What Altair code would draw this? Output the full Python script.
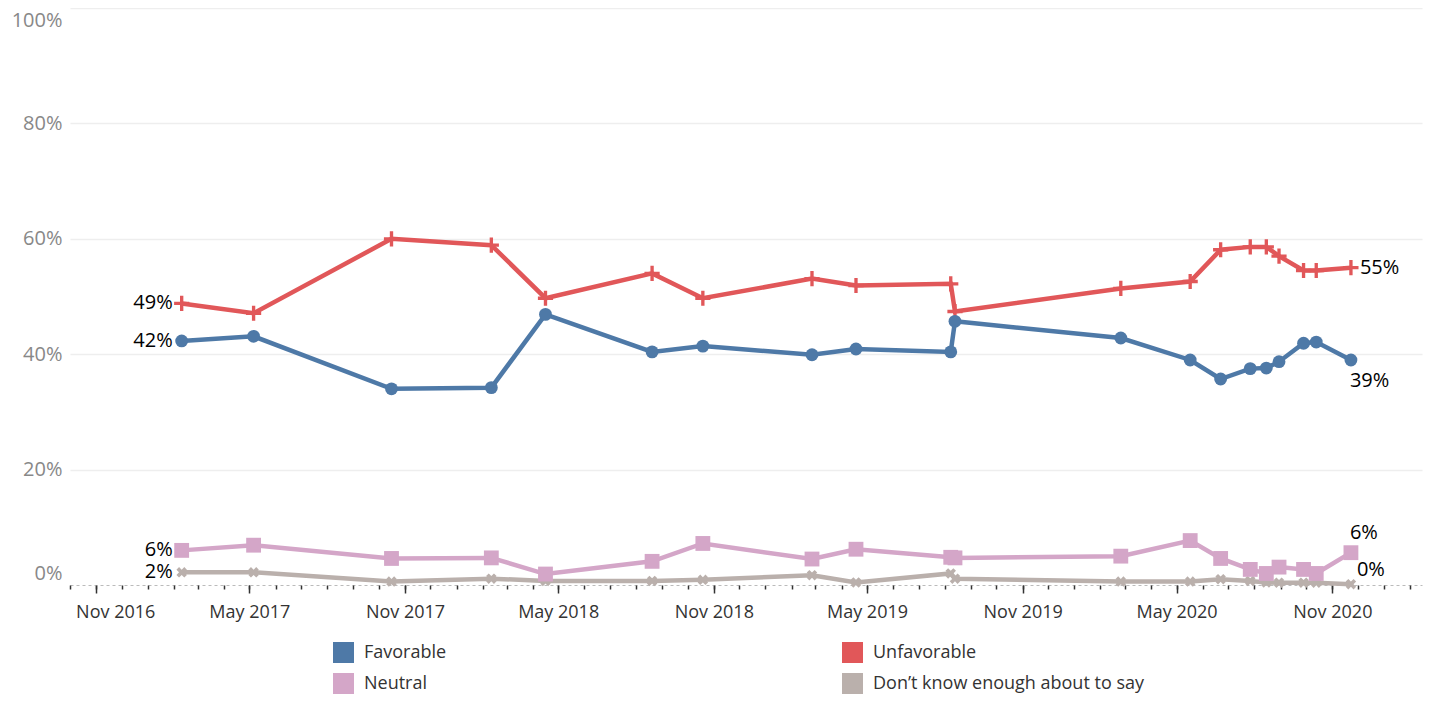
import altair as alt
import pandas as pd

# ---------------- data ----------------
dates = [
    "2017-02-10", "2017-05-06", "2017-10-16", "2018-02-11", "2018-04-16",
    "2018-08-20", "2018-10-19", "2019-02-25", "2019-04-18", "2019-08-08",
    "2019-08-13", "2020-02-25", "2020-05-17", "2020-06-22", "2020-07-27",
    "2020-08-15", "2020-08-30", "2020-09-28", "2020-10-13", "2020-11-23",
]
favorable = [42.3, 43.1, 34.0, 34.2, 46.9, 40.4, 41.4, 39.9, 40.9, 40.4,
             45.7, 42.8, 39.0, 35.7, 37.5, 37.6, 38.7, 41.9, 42.1, 39.0]
unfavorable = [48.8, 47.1, 60.0, 58.9, 49.7, 54.0, 49.7, 53.1, 51.9, 52.2,
               47.4, 51.4, 52.6, 58.1, 58.6, 58.6, 57.0, 54.5, 54.5, 55.0]
neutral = [6.0, 6.9, 4.6, 4.7, 1.9, 4.1, 7.2, 4.5, 6.2, 4.8,
           4.7, 5.0, 7.7, 4.6, 2.7, 2.0, 3.1, 2.7, 2.0, 5.6]
dont_know = [2.2, 2.2, 0.6, 1.1, 0.7, 0.7, 0.9, 1.7, 0.45, 2.0,
             1.1, 0.6, 0.6, 1.0, 0.7, 0.45, 0.4, 0.4, 0.4, 0.15]

series_names = ["Favorable", "Unfavorable", "Neutral", "Don’t know enough about to say"]
series_values = [favorable, unfavorable, neutral, dont_know]
series_colors = ["#4e79a7", "#e15759", "#d4a6c8", "#bab0ac"]

major_months = [(2016, 11), (2017, 5), (2017, 11), (2018, 5), (2018, 11),
                (2019, 5), (2019, 11), (2020, 5), (2020, 11)]
y_ticks = [0, 20, 40, 60, 80, 100]

# ---------------- styling ----------------
FONT = "Open Sans"
PLUS = "M-1,-0.22L-0.22,-0.22L-0.22,-1L0.22,-1L0.22,-0.22L1,-0.22L1,0.22L0.22,0.22L0.22,1L-0.22,1L-0.22,0.22L-1,0.22Z"
XSHAPE = "M-1,-0.5L-0.5,-1L0,-0.5L0.5,-1L1,-0.5L0.5,0L1,0.5L0.5,1L0,0.5L-0.5,1L-1,0.5L-0.5,0Z"
series_shapes = ["circle", PLUS, "square", XSHAPE]
series_sizes = [165, 230, 220, 110]

rows = []
for name, vals in zip(series_names, series_values):
    for d, v in zip(dates, vals):
        rows.append({"series": name, "date": d + "T00:00:00", "value": v})
df = pd.DataFrame(rows)

minor_months = []
y, m = 2016, 10
while (y, m) <= (2021, 2):
    minor_months.append(alt.DateTime(year=y, month=m, date=1))
    m += 1
    if m > 12:
        y, m = y + 1, 1

x_scale = alt.Scale(domain=[alt.DateTime(year=2016, month=10, date=1),
                            alt.DateTime(year=2021, month=2, date=15)])
y_scale = alt.Scale(domain=[0, 100], nice=False)
color_scale = alt.Scale(domain=series_names, range=series_colors)

legend = alt.Legend(
    title=None, orient="none", legendX=263, legendY=634, direction="horizontal",
    columns=2, columnPadding=395, rowPadding=10, symbolType="square",
    symbolSize=441, symbolStrokeWidth=0, symbolOpacity=1, labelFont=FONT,
    labelFontSize=18, labelColor="#333333", labelOffset=10, labelLimit=400,
)

major_axis = alt.Axis(
    values=[alt.DateTime(year=yy, month=mm, date=1) for yy, mm in major_months],
    format="%b %Y", orient="bottom", title=None, grid=False,
    domainDash=[3, 3], domainColor="#bbbbbb", domainWidth=1,
    tickSize=8, tickColor="#333333", tickWidth=1.5,
    labelFont=FONT, labelFontSize=18, labelColor="#333333", labelPadding=10,
    labelOffset={"condition": {"test": "datum.index === 0", "value": 19}, "value": 0},
)
minor_axis = alt.Axis(
    values=minor_months, orient="bottom", title=None, grid=False, labels=False,
    domain=False, tickSize=4, tickColor="#333333", tickWidth=1.5,
)
y_axis = alt.Axis(
    values=y_ticks, title=None, labelExpr="datum.value + '%'", labelFlush=True,
    labelFlushOffset=-2,
    ticks=False, domain=False, gridColor="#eeeeee", gridWidth=1.5,
    gridOpacity={"condition": {"test": "datum.value === 0", "value": 0}, "value": 1},
    labelFont=FONT, labelFontSize=20, labelColor="#888888", labelPadding=8,
)

base = alt.Chart(df)

# invisible layer that carries the legend (square swatches)
legend_layer = base.mark_square(size=0, filled=True, opacity=1).encode(
    x=alt.X("date:T", scale=x_scale, axis=None),
    y=alt.Y("value:Q", scale=y_scale, axis=y_axis),
    color=alt.Color("series:N", scale=color_scale, legend=legend),
)

draw_order = [3, 2, 1, 0]
line_layers = []
point_layers = []
for k, i in enumerate(draw_order):
    name, shp, sz, col = series_names[i], series_shapes[i], series_sizes[i], series_colors[i]
    sub = base.transform_filter(alt.datum.series == name)
    line_layers.append(
        sub.mark_line(strokeWidth=4.5, color=col).encode(
            x=alt.X("date:T", scale=x_scale, axis=major_axis if k == 0 else None),
            y=alt.Y("value:Q", scale=y_scale, axis=y_axis),
        )
    )
    point_layers.append(
        sub.mark_point(filled=True, opacity=1, strokeWidth=0, shape=shp, size=sz, color=col).encode(
            x=alt.X("date:T", scale=x_scale, axis=minor_axis if k == 0 else None),
            y=alt.Y("value:Q", scale=y_scale, axis=y_axis),
        )
    )

# label rows
first_rows = [{"series": n, "date": dates[0] + "T00:00:00", "value": v[0]}
              for n, v in zip(series_names, series_values)]
last_rows = [{"series": n, "date": dates[-1] + "T00:00:00", "value": v[-1]}
             for n, v in zip(series_names, series_values)]


def text_layer(rows_, align, dx, dy):
    return alt.Chart(pd.DataFrame(rows_)).transform_calculate(
        label="format(datum.value, '.0f') + '%'"
    ).mark_text(
        align=align, baseline="middle", dx=dx, dy=dy, font=FONT, fontSize=20, color="#000000"
    ).encode(
        x=alt.X("date:T", scale=x_scale, axis=None),
        y=alt.Y("value:Q", scale=y_scale, axis=y_axis),
        text="label:N",
    )


end_style = {
    "Unfavorable": ("left", 9, 0),
    "Favorable": ("left", -1, 21),
    "Neutral": ("left", -1, -20),
    "Don’t know enough about to say": ("left", 6, -14),
}

layers = line_layers + point_layers + [legend_layer, text_layer(first_rows, "right", -9, 0)]
for r in last_rows:
    a, dx, dy = end_style[r["series"]]
    layers.append(text_layer([r], a, dx, dy))

chart = alt.layer(*layers).resolve_axis(x="independent").properties(
    width=1352, height=577,
    padding={"left": 62, "top": 0, "right": 2, "bottom": 109},
    autosize=alt.AutoSizeParams(type="none"),
).configure_view(stroke=None)

chart.save("out.html", embed_options={"renderer": "svg", "actions": False})
